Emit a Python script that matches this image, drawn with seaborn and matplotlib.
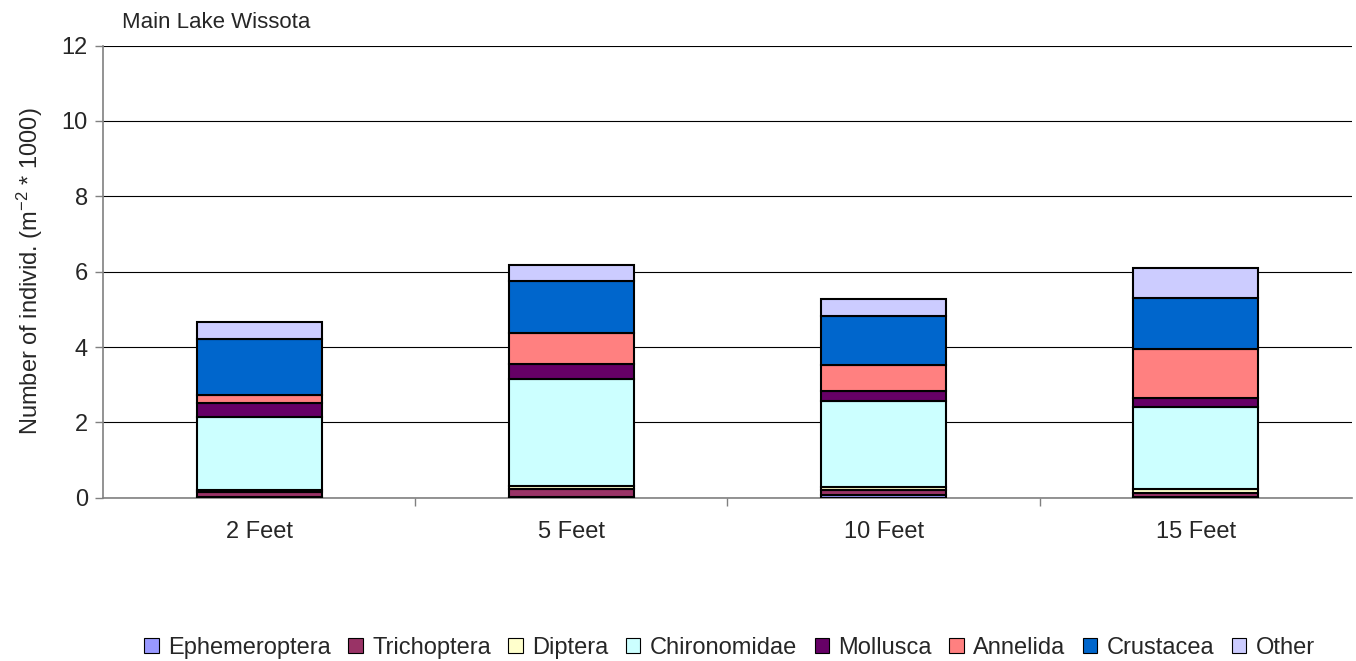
import numpy as np
import pandas as pd
import matplotlib
matplotlib.use("Agg")
import matplotlib.pyplot as plt
from matplotlib.patches import Patch
import seaborn as sns

categories = ["2 Feet", "5 Feet", "10 Feet", "15 Feet"]
taxa = ["Ephemeroptera", "Trichoptera", "Diptera", "Chironomidae",
        "Mollusca", "Annelida", "Crustacea", "Other"]
ephemeroptera = [0.02, 0.02, 0.08, 0.02]
trichoptera   = [0.14, 0.22, 0.13, 0.10]
diptera       = [0.05, 0.06, 0.08, 0.10]
chironomidae  = [1.93, 2.84, 2.28, 2.18]
mollusca      = [0.37, 0.40, 0.27, 0.26]
annelida      = [0.21, 0.82, 0.69, 1.28]
crustacea     = [1.49, 1.38, 1.30, 1.35]
other         = [0.45, 0.45, 0.45, 0.80]
series = [ephemeroptera, trichoptera, diptera, chironomidae,
          mollusca, annelida, crustacea, other]
colors = ["#9999FF", "#993366", "#FFFFCC", "#CCFFFF",
          "#660066", "#FF8080", "#0066CC", "#CCCCFF"]

sns.set_style("white")
plt.rcParams['font.family'] = ['Liberation Sans', 'DejaVu Sans']
plt.rcParams['mathtext.fontset'] = 'custom'
plt.rcParams['mathtext.rm'] = 'Liberation Sans'
plt.rcParams['mathtext.it'] = 'Liberation Sans'
plt.rcParams['mathtext.default'] = 'regular'

fig = plt.figure(figsize=(13.56, 6.61), dpi=100)
ax = fig.add_axes([0.076, 0.247, 0.921, 0.684])

bottom = np.zeros(len(categories))
for name, vals, c in zip(taxa, series, colors):
    df = pd.DataFrame({"cat": categories, "val": vals})
    sns.barplot(data=df, x="cat", y="val", ax=ax, color=c, bottom=bottom,
                width=0.4, edgecolor="black", linewidth=1.5, saturation=1,
                errorbar=None, zorder=3)
    bottom = bottom + np.array(vals)

ax.set_xlim(-0.5, 3.5)
ax.set_ylim(0, 12)
ax.set_yticks(np.arange(0, 13, 2))
ax.yaxis.grid(True, color="black", linewidth=0.8, zorder=0)
ax.set_axisbelow(True)
for s in ["top", "right"]:
    ax.spines[s].set_visible(False)
for s in ["left", "bottom"]:
    ax.spines[s].set_color("#808080")
    ax.spines[s].set_linewidth(1.2)
ax.tick_params(axis="y", direction="out", length=6, width=1, color="#808080",
               labelsize=17, pad=5, left=True)
ax.set_xticks(range(len(categories)))
ax.set_xticklabels(categories, fontsize=17)
ax.tick_params(axis="x", length=0, pad=17)
# minor ticks at category boundaries
ax.set_xticks([0.5, 1.5, 2.5], minor=True)
ax.tick_params(axis="x", which="minor", direction="out", length=6, width=1,
               color="#808080", bottom=True)
ax.set_xlabel("")
ax.set_ylabel("Number of individ. (m$^{-2}$ * 1000)", fontsize=17, labelpad=12)

fig.text(122 / 1356, 1 - 22 / 661, "Main Lake Wissota", fontsize=16,
         va="center", ha="left")

handles = [Patch(facecolor=c, edgecolor="black", linewidth=0.8, label=t)
           for t, c in zip(taxa, colors)]
fig.legend(handles=handles, loc="center", bbox_to_anchor=(0.538, 1 - 648 / 661),
           ncol=8, frameon=False, fontsize=17, handlelength=0.6,
           handleheight=0.6, handletextpad=0.4, columnspacing=0.75)

fig.savefig("out.png", dpi=100)
